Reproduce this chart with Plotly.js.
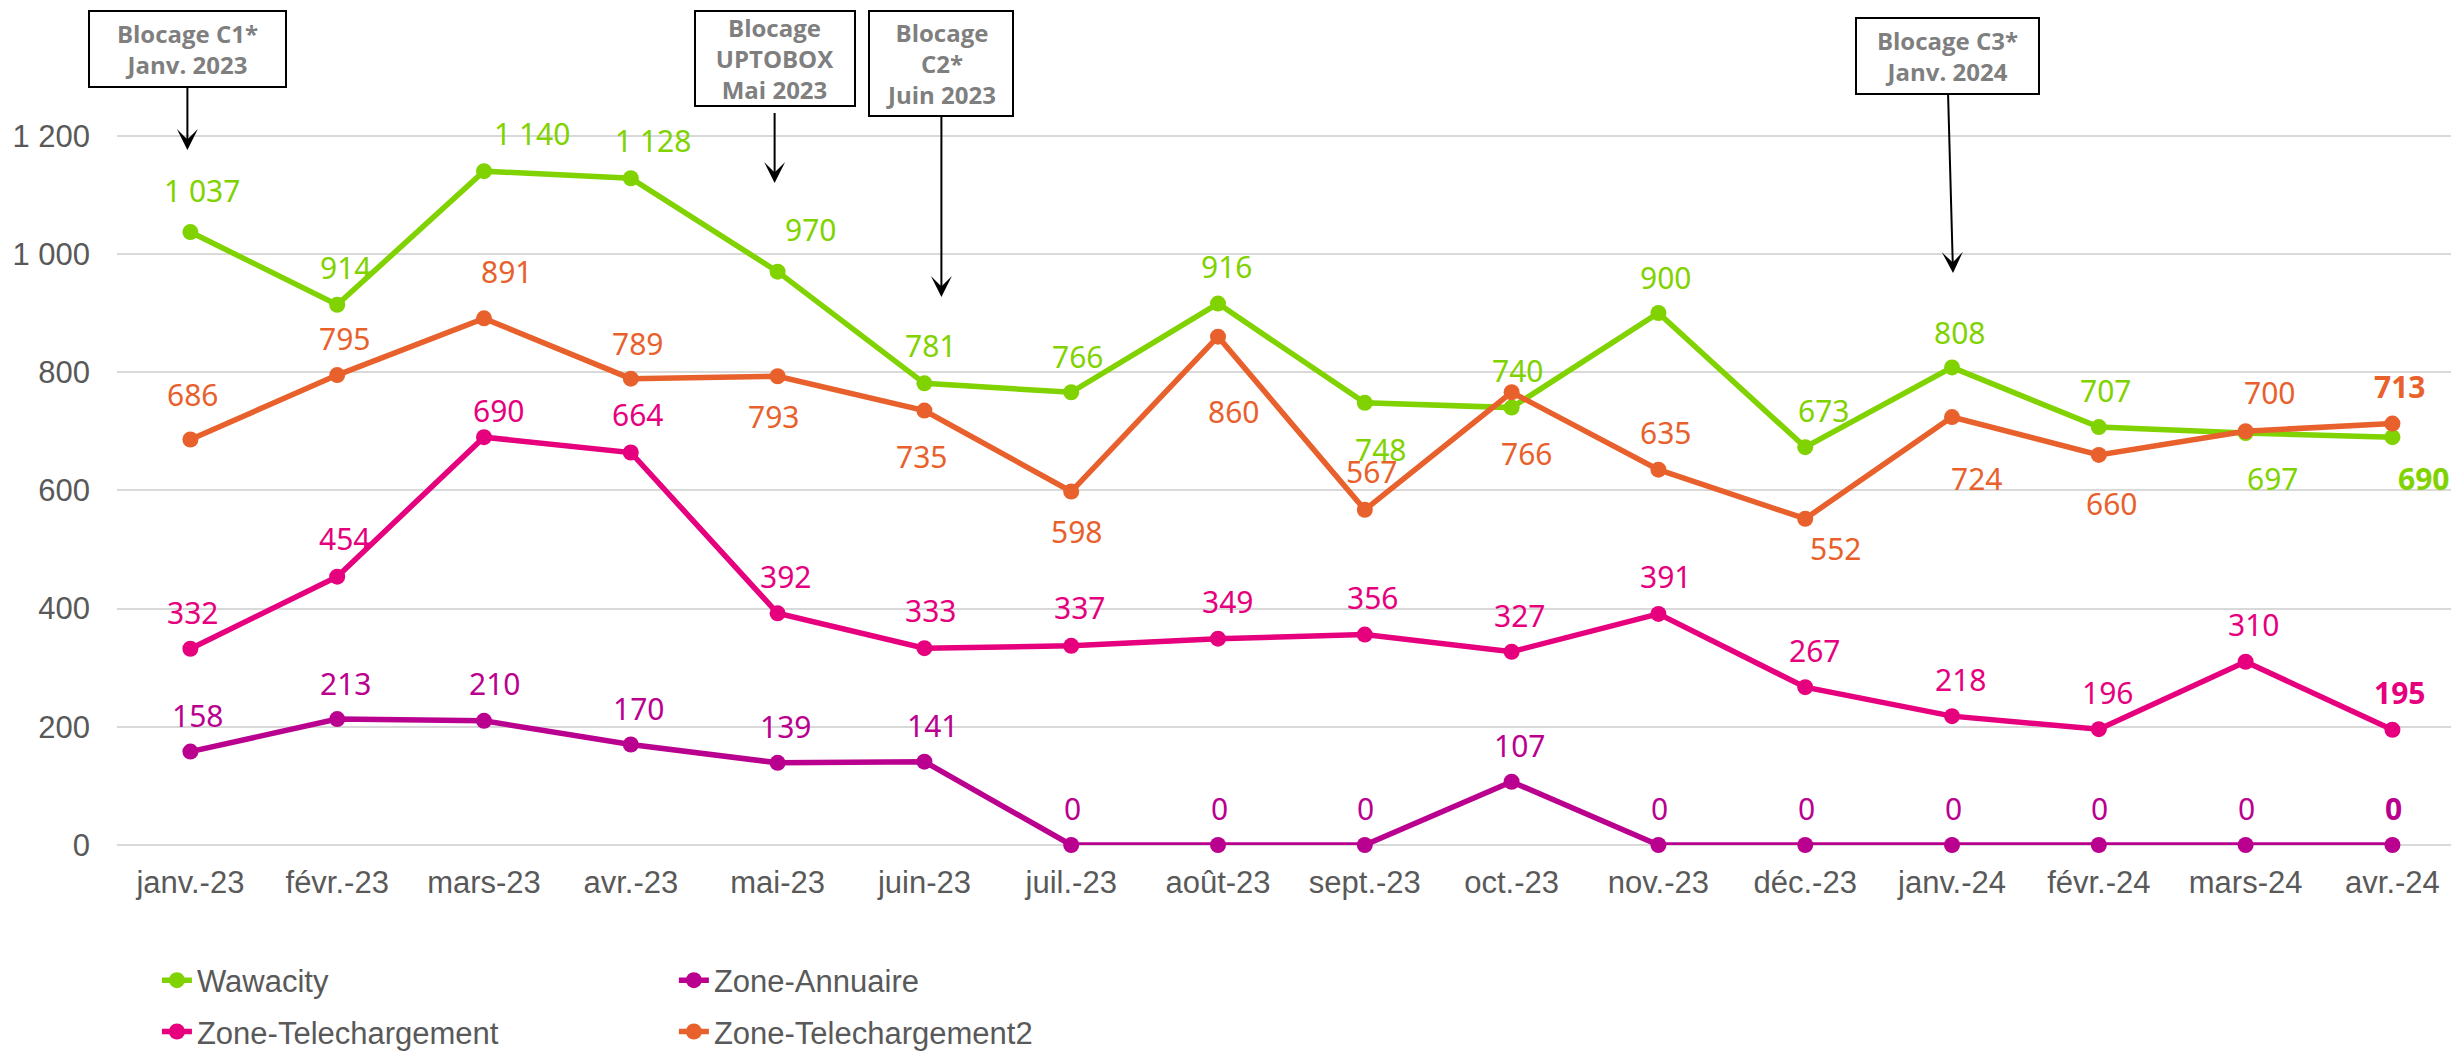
<!DOCTYPE html>
<html>
<head>
<meta charset="utf-8">
<script src="https://cdn.plot.ly/plotly-3.0.1.min.js"></script>
<style>
html,body{margin:0;padding:0;background:#ffffff;}
#chart{width:2451px;height:1052px;}
</style>
</head>
<body>
<div id="chart"></div>
<script>
// ---------- DATA ----------
const months = ['janv.-23','févr.-23','mars-23','avr.-23','mai-23','juin-23','juil.-23','août-23','sept.-23','oct.-23','nov.-23','déc.-23','janv.-24','févr.-24','mars-24','avr.-24'];
const seriesNames = ['Wawacity','Zone-Annuaire','Zone-Telechargement','Zone-Telechargement2'];
const wawacity = [1037,914,1140,1128,970,781,766,916,748,740,900,673,808,707,697,690];
const zoneAnnuaire = [158,213,210,170,139,141,0,0,0,107,0,0,0,0,0,0];
const zoneTelechargement = [332,454,690,664,392,333,337,349,356,327,391,267,218,196,310,195];
const zoneTelechargement2 = [686,795,891,789,793,735,598,860,567,766,635,552,724,660,700,713];
const yTickValues = [0,200,400,600,800,1000,1200];
const eventMonths = ['janv.-23','mai-23','juin-23','janv.-24'];
const eventLabels = ['Blocage C1*<br>Janv. 2023','Blocage<br>UPTOBOX<br>Mai 2023','Blocage<br>C2*<br>Juin 2023','Blocage C3*<br>Janv. 2024'];

// ---------- STYLE / PLACEMENT (pixels) ----------
const colors = ['#80D200','#BA008F','#E6007E','#E8612C'];
// label offsets [dx, dy] in px relative to each point (dy>0 = below)
const offWawacity = [[12,-42],[8,-37],[48,-38],[22,-38],[33,-42],[6,-38],[6,-36],[8,-37],[16,47],[6,-37],[7,-36],[18,-37],[7,-35],[7,-37],[27,45],[31,41]];
const offAnnuaire = [[7,-36],[8,-36],[10,-37],[8,-36],[8,-36],[8,-36],[1,-37],[1,-37],[1,-37],[8,-36],[1,-37],[1,-37],[1,-37],[1,-37],[1,-37],[1,-37]];
const offTele = [[2,-36],[7,-38],[14,-27],[7,-38],[8,-37],[6,-38],[8,-38],[9,-37],[8,-37],[8,-36],[7,-37],[9,-37],[8,-37],[9,-37],[8,-37],[7,-37]];
const offTele2 = [[2,-45],[7,-37],[22,-47],[7,-35],[-4,40],[-3,46],[5,40],[15,75],[7,-38],[15,61],[7,-37],[30,30],[24,61],[13,49],[24,-39],[7,-37]];
// event boxes: xshift, tip y px, box centre y px, box w, h, start standoff
const eventBoxes = [
  {dx:-3, tip:150, cy:49, w:199, h:78, ss:0},
  {dx:-3, tip:183, cy:58.5, w:162, h:97, ss:7},
  {dx:17, tip:297, cy:63.5, w:146, h:107, ss:0},
  {dx:1, tip:273, cy:56, w:185, h:78, ss:0, ax:-6}
];

const W = 2451, H = 1052;
const mL = 117, mR = 0, mT = 40, mB = 207;
const plotH = H - mT - mB;          // 805
const pxPerUnit = 709.3 / 1200;
const yMax = plotH / pxPerUnit;

function fmt(v){ return String(v).replace(/\B(?=(\d{3})+(?!\d))/g, '\u00A0'); }
function pyToData(py){ return (H - mB - py) / pxPerUnit; }

const allSeries = [wawacity, zoneAnnuaire, zoneTelechargement, zoneTelechargement2];
const allOffsets = [offWawacity, offAnnuaire, offTele, offTele2];
const legendRefs = ['legend','legend2','legend','legend2'];

const traces = allSeries.map((vals, s) => ({
  type: 'scatter',
  mode: 'lines+markers',
  name: seriesNames[s],
  x: months,
  y: vals,
  line: {color: colors[s], width: 5.5},
  marker: {color: colors[s], size: 16},
  cliponaxis: false,
  legend: legendRefs[s],
  legendgroup: seriesNames[s],
  hoverinfo: 'skip'
}));

const annotations = [];
allSeries.forEach((vals, s) => {
  vals.forEach((v, i) => {
    const last = i === vals.length - 1;
    annotations.push({
      x: months[i], y: v, xref: 'x', yref: 'y',
      text: last ? '<b>' + fmt(v) + '</b>' : fmt(v),
      showarrow: false,
      xshift: allOffsets[s][i][0],
      yshift: -allOffsets[s][i][1],
      font: {family: '"Noto Sans", "Open Sans", sans-serif', size: 30, color: colors[s]}
    });
  });
});

eventMonths.forEach((m, k) => {
  const b = eventBoxes[k];
  annotations.push({
    x: m, y: pyToData(b.tip), xref: 'x', yref: 'y',
    xshift: b.dx,
    text: '<b>' + eventLabels[k] + '</b>',
    showarrow: true,
    arrowhead: 3, arrowsize: 1.75, arrowwidth: 2, arrowcolor: '#000000',
    ax: b.ax || 0, ay: b.cy - b.tip,
    startstandoff: b.ss,
    width: b.w - 4, height: b.h - 4,
    bordercolor: '#000000', borderwidth: 2, borderpad: 0,
    bgcolor: '#ffffff',
    align: 'center', valign: 'middle',
    font: {family: '"Open Sans", "Noto Sans", sans-serif', size: 24, color: '#7F7F7F'}
  });
});

const tickFont = {family: '"Liberation Sans", Arial, sans-serif', size: 31, color: '#595959'};

const layout = {
  width: W, height: H,
  margin: {l: mL, r: mR, t: mT, b: mB, pad: 0, autoexpand: false},
  paper_bgcolor: '#ffffff', plot_bgcolor: '#ffffff',
  separators: ', ',
  showlegend: true,
  xaxis: {
    type: 'category',
    range: [-0.5, 15.399],
    showgrid: false, zeroline: false, showline: false,
    ticks: '', ticklabelstandoff: 16,
    tickfont: tickFont,
    automargin: false,
    fixedrange: true
  },
  yaxis: {
    range: [0, yMax],
    tickvals: yTickValues,
    ticktext: yTickValues.map(fmt),
    showgrid: true, gridcolor: '#D9D9D9', gridwidth: 2,
    zeroline: true, zerolinecolor: '#D9D9D9', zerolinewidth: 2,
    showline: false, ticks: '', ticklabelstandoff: 26,
    tickfont: tickFont,
    automargin: false,
    fixedrange: true
  },
  legend: {
    x: 0.0171, xref: 'paper', y: 0.0936, yref: 'container', xanchor: 'left', yanchor: 'top',
    orientation: 'v', traceorder: 'grouped', tracegroupgap: 8,
    font: tickFont, bgcolor: 'rgba(0,0,0,0)', borderwidth: 0
  },
  legend2: {
    x: 0.2386, xref: 'paper', y: 0.0936, yref: 'container', xanchor: 'left', yanchor: 'top',
    orientation: 'v', traceorder: 'grouped', tracegroupgap: 8,
    font: tickFont, bgcolor: 'rgba(0,0,0,0)', borderwidth: 0
  },
  annotations: annotations
};

Plotly.newPlot('chart', traces, layout, {staticPlot: true, displayModeBar: false});
</script>
</body>
</html>
